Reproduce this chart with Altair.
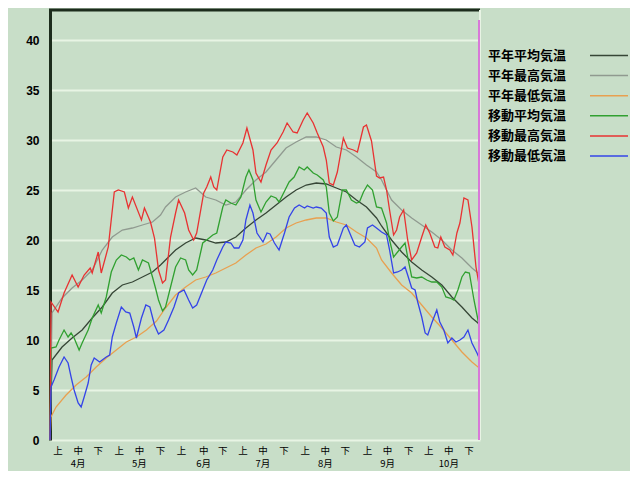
import altair as alt
import pandas as pd

# ---- data (day index from 1 April = 0) ----
series_names = ["平年平均気温", "平年最高気温", "平年最低気温", "移動平均気温", "移動最高気温", "移動最低気温"]
series_colors = ["#364636", "#909a90", "#e8a050", "#30a030", "#e83232", "#3444e8"]

avg_norm_days = [0, 1, 6, 11, 16, 21, 26, 31, 36, 41, 46, 51, 55, 57.5, 62.5, 67.5, 72.5, 77.5, 82.5, 87.5, 92.5, 97.5, 102.5, 107.5, 112.5, 117.5, 122.5, 127.5, 132.5, 137.5, 142.5, 147.5, 152.5, 157.5, 162.5, 165, 170, 175, 180, 185, 190, 195, 200, 205, 210, 213, 214]
avg_norm_vals = [0, 8, 9.3, 10.2, 11, 12.2, 13.3, 14.7, 15.5, 15.8, 16.3, 16.8, 17.5, 18, 19, 19.7, 20.2, 20, 19.7, 19.8, 20.3, 21.2, 22, 22.7, 23.5, 24.3, 25, 25.5, 25.7, 25.6, 25.2, 24.8, 24, 23.3, 22.2, 21.4, 20, 18.8, 17.8, 17, 16.3, 15.5, 14.3, 13.3, 12.2, 11.7, 11.3]

max_norm_days = [0, 1, 6, 11, 16, 21, 26, 31, 36, 41, 46, 51, 55, 57.5, 62.5, 67.5, 72.5, 77.5, 82.5, 87.5, 92.5, 97.5, 102.5, 107.5, 112.5, 117.5, 122.5, 127.5, 132.5, 137.5, 142.5, 147.5, 152.5, 157.5, 162.5, 165, 170, 175, 180, 185, 190, 195, 200, 205, 210, 213, 214]
max_norm_vals = [0, 12.7, 14.2, 15.2, 16, 17, 19, 20.3, 21, 21.2, 21.5, 21.8, 22.5, 23.3, 24.3, 24.8, 25.2, 24.3, 24, 23.5, 23.8, 25, 26, 26.8, 28, 29.2, 29.8, 30.3, 30.3, 30, 29.3, 29, 28.3, 27.5, 26.8, 26, 24, 23, 22.2, 21.5, 20.8, 20, 19, 18.2, 17.2, 16.7, 16.5]

min_norm_days = [0, 0.5, 3, 8, 13, 18, 23, 28, 33, 38, 43, 48, 53, 57.5, 62.5, 67.5, 72.5, 77.5, 82.5, 87.5, 92.5, 97.5, 102.5, 107.5, 112.5, 117.5, 122.5, 127.5, 132.5, 137.5, 142.5, 147.5, 152.5, 157.5, 162.5, 165, 170, 175, 180, 185, 190, 195, 200, 205, 210, 213, 214]
min_norm_vals = [0, 2.3, 3.3, 4.5, 5.5, 6.3, 7.3, 8.2, 9, 9.8, 10.3, 11, 11.9, 13.2, 14.5, 15.3, 16, 16.3, 16.7, 17.2, 17.7, 18.5, 19.2, 19.6, 20.3, 21.2, 21.7, 22, 22.2, 22.2, 21.8, 21.5, 20.8, 20.2, 19.2, 18, 16.7, 15.5, 14.7, 13.5, 12.3, 11.2, 10, 8.8, 7.8, 7.3, 7.2]

avg_move_days = [0, 0.5, 3, 4.5, 7, 9, 10.5, 12, 14.5, 16, 19, 21, 24, 25.5, 28, 30.5, 33, 35.5, 38, 39.7, 41.7, 44, 46, 49, 51, 52.5, 54, 56, 57.5, 60, 62.5, 65, 67.5, 69, 71, 73, 76, 78, 81, 83, 86, 87.5, 90, 92.5, 95, 97.5, 99, 101, 102.5, 105, 107.5, 110, 112.5, 114, 117, 119, 121.5, 124, 126.5, 128, 131, 133, 136, 137.5, 139, 141, 143, 145.5, 147.5, 150, 152.5, 154, 156, 158, 160.5, 162.5, 165, 167.5, 169, 171, 173, 175, 176.7, 178, 180, 182.5, 185, 187.5, 190, 192.5, 195, 197, 199, 201, 203, 205, 206.7, 208.7, 211, 213, 214]
avg_move_vals = [0, 9.2, 9.3, 10, 11, 10.3, 10.7, 10.2, 9, 9.7, 11, 12.2, 13.5, 12.7, 14.3, 16.8, 18, 18.5, 18.3, 18, 18.2, 17, 18, 17.7, 16.3, 15.2, 14, 12.9, 13.3, 15.3, 17.3, 18.2, 18, 17, 16.5, 17, 19.7, 20, 20.5, 20.7, 23.3, 24, 23.7, 23.5, 24.3, 26.3, 27, 26, 24, 22.8, 23.8, 24.4, 24.2, 23.8, 25, 25.8, 26.3, 27.3, 27, 27.3, 26.7, 26.5, 26, 25.3, 22.7, 21.9, 22.3, 25, 25, 24, 23.7, 23.8, 24.8, 25.5, 25, 23.3, 23.2, 21.7, 20, 18.3, 18.8, 19.3, 19.7, 18.3, 16.3, 16.2, 16.3, 16, 15.8, 15.8, 15.3, 14.3, 14.2, 14, 15, 16.3, 16.8, 16.7, 14, 12, 11]

max_move_days = [0, 0.5, 4, 7, 11, 14, 17, 20, 21, 24, 25.5, 29, 32, 34, 37, 39, 41, 45.5, 47, 50, 52, 54, 56, 57.5, 60, 62.5, 64, 67, 69, 71.5, 73, 76.5, 78, 80, 81.5, 83, 86, 88, 91, 93, 96, 98, 101, 102.5, 105, 107.5, 110, 113, 116, 118, 121, 123, 126, 128, 131, 133, 136, 137.5, 139, 141, 143, 146, 148, 151, 153, 156, 157.5, 160, 162.5, 164, 166, 167.5, 169, 171, 172.5, 174, 176, 178, 180, 182.5, 185, 187, 189, 191.5, 193, 194.5, 196.5, 199, 200.5, 202.5, 204, 206, 208, 210, 212, 214]
max_move_vals = [0, 13.8, 12.8, 14.7, 16.5, 15.3, 16.5, 17.2, 16.7, 18.8, 16.7, 19.3, 24.8, 25, 24.8, 23.2, 24.3, 22, 23.2, 21.8, 20.2, 17, 15.7, 16, 20.3, 22.7, 24, 22.7, 21, 20, 20.7, 24.7, 25.3, 26.3, 25.3, 25, 28.3, 29, 28.8, 28.5, 29.7, 31.2, 29, 26.7, 25.8, 27.5, 29, 29.7, 30.8, 31.7, 30.8, 30.7, 32, 32.7, 31.7, 30.7, 29.3, 28, 25.7, 25.5, 26.8, 30.2, 29.2, 29, 28.8, 31.3, 31.5, 29.9, 26.4, 26.2, 26.3, 25, 23, 20.5, 21, 22.3, 23, 20, 18, 18.7, 20.3, 21.5, 20.7, 19.3, 19.2, 20.3, 19.3, 19, 18.5, 20.7, 21.7, 24.2, 24, 21.3, 17.3, 15]

min_move_days = [0, 0.5, 2, 4.5, 7, 9, 10.5, 12, 14, 15.5, 17, 19, 20.5, 22, 24.7, 26, 28, 29.7, 31, 33, 35.5, 37.7, 39.7, 41.7, 43, 45.5, 47.7, 49.7, 52, 54, 56.7, 59, 61.7, 64, 66.7, 69, 71, 73, 76, 78, 81, 83, 86, 87.5, 90, 91.7, 94, 96, 97.5, 99.5, 101, 103, 106, 108, 109.5, 111.7, 114, 116.7, 119, 121.7, 124, 126.7, 128, 131, 132.5, 135, 137.5, 139, 141, 143, 146, 147.5, 150, 151.7, 154, 156.7, 158, 160.5, 162.5, 165, 167.5, 169, 171, 173, 175, 176.7, 178, 180, 181.7, 183, 185, 186.7, 188, 190, 192.5, 194, 196, 198, 200, 202, 204, 206, 208, 210, 212.5, 214]
min_move_vals = [0, 5.3, 6, 7.3, 8.3, 7.7, 6.3, 5, 3.7, 3.3, 4.3, 5.7, 7.5, 8.2, 7.8, 8, 8.3, 8.5, 10.3, 11.7, 13.3, 12.8, 12.7, 11.3, 10.2, 12.2, 13.5, 13.3, 11.5, 10.6, 11, 12, 13.3, 14.7, 15, 14, 13.2, 13.5, 15, 16, 17, 18, 19.3, 19.8, 19.7, 19.2, 19.2, 20, 22, 23.5, 22.7, 20.7, 19.8, 20.7, 20.6, 19.7, 19, 20.7, 22.3, 23.2, 23.5, 23.2, 23.4, 23.2, 23.3, 23.2, 22.7, 20.3, 19.3, 19.5, 21.2, 21.5, 20.3, 19.5, 19.3, 19.8, 21.2, 21.5, 21.2, 20.8, 20.5, 19, 16.7, 16.8, 17, 17.3, 16.5, 15.2, 15, 13.8, 12.3, 10.7, 10.5, 11.7, 13, 11.8, 11, 9.7, 10.2, 9.8, 10, 10.3, 11, 9.7, 8.7, 8]

today_day = [213.5]

y_ticks = [0, 5, 10, 15, 20, 25, 30, 35, 40]
dekad_labels = ["上", "中", "下"] * 7
dekad_days = [4, 14, 24, 34.5, 44.5, 55, 65.5, 76.5, 86, 96, 106, 116.5, 127, 137, 147, 158, 168, 178.5, 188.5, 198.5, 208.5]
month_labels = ["4月", "5月", "6月", "7月", "8月", "9月", "10月"]
month_days = [14, 44.5, 76.5, 106, 137, 168, 198.5]

# ---- build tables ----
all_days = [avg_norm_days, max_norm_days, min_norm_days, avg_move_days, max_move_days, min_move_days]
all_vals = [avg_norm_vals, max_norm_vals, min_norm_vals, avg_move_vals, max_move_vals, min_move_vals]
rows = []
for name, ds, vs in zip(series_names, all_days, all_vals):
    for d, v in zip(ds, vs):
        rows.append({"series": name, "day": d, "value": v})
df = pd.DataFrame(rows)

W, H = 430, 430
BG = "#c8dec8"
GRID = "#e8f4e4"
DARK = "#1c2c1c"

xscale = alt.Scale(domain=[0, 214], nice=False, zero=False)
yscale = alt.Scale(domain=[0, 43], nice=False)

lines = alt.Chart(df).mark_line(strokeWidth=1.3).encode(
    x=alt.X("day:Q", scale=xscale, axis=None),
    y=alt.Y("value:Q", scale=yscale,
            axis=alt.Axis(values=y_ticks, grid=True, gridColor=GRID, gridWidth=2,
                          domainColor=DARK, domainWidth=3, ticks=False,
                          labelFont="Liberation Sans", labelFontWeight="bold",
                          labelFontSize=12, labelColor="#000000", labelPadding=11,
                          title=None)),
    color=alt.Color("series:N", scale=alt.Scale(domain=series_names, range=series_colors), legend=None),
    order=alt.Order("day:Q"),
)

top_border = alt.Chart(pd.DataFrame({"a": [0]})).mark_rule(color=DARK, strokeWidth=3).encode(
    x=alt.value(-1), x2=alt.value(W), y=alt.value(0))
right_edge = alt.Chart(pd.DataFrame({"a": [0]})).mark_rule(color=GRID, strokeWidth=2).encode(
    x=alt.value(W), y=alt.value(0), y2=alt.value(H))

today = alt.Chart(pd.DataFrame({"day": today_day})).mark_rule(color="#d878d8", strokeWidth=2).encode(
    x=alt.X("day:Q", scale=xscale), y=alt.value(10), y2=alt.value(H))

dek = alt.Chart(pd.DataFrame({"day": dekad_days, "label": dekad_labels})).mark_text(
    font="Noto Sans CJK JP", fontSize=9.5, baseline="middle", align="center", color="#000000").encode(
    x=alt.X("day:Q", scale=xscale), y=alt.value(H + 11), text="label:N")

mon = alt.Chart(pd.DataFrame({"day": month_days, "label": month_labels})).mark_text(
    font="Noto Sans CJK JP", fontSize=9.5, baseline="middle", align="center", color="#000000").encode(
    x=alt.X("day:Q", scale=xscale), y=alt.value(H + 24), text="label:N")

legend_layers = []
for i, (name, col) in enumerate(zip(series_names, series_colors)):
    yy = 45.5 + 20.1 * i
    legend_layers.append(
        alt.Chart(pd.DataFrame({"t": [name]})).mark_text(
            font="Noto Sans CJK JP", fontWeight="bold", fontSize=13, align="left",
            baseline="middle", color="#000000").encode(
            x=alt.value(438), y=alt.value(yy), text="t:N"))
    legend_layers.append(
        alt.Chart(pd.DataFrame({"t": [name]})).mark_rule(color=col, strokeWidth=1.5).encode(
            x=alt.value(540), x2=alt.value(578), y=alt.value(yy)))

chart = alt.layer(lines, top_border, right_edge, today, dek, mon, *legend_layers).properties(
    width=W, height=H,
    background=BG,
    padding={"left": 42, "top": 2, "right": 150, "bottom": 31},
    autosize=alt.AutoSizeParams(type="none"),
).configure_view(strokeWidth=0)

chart.save("out.html", embed_options={"renderer": "svg", "actions": False})
